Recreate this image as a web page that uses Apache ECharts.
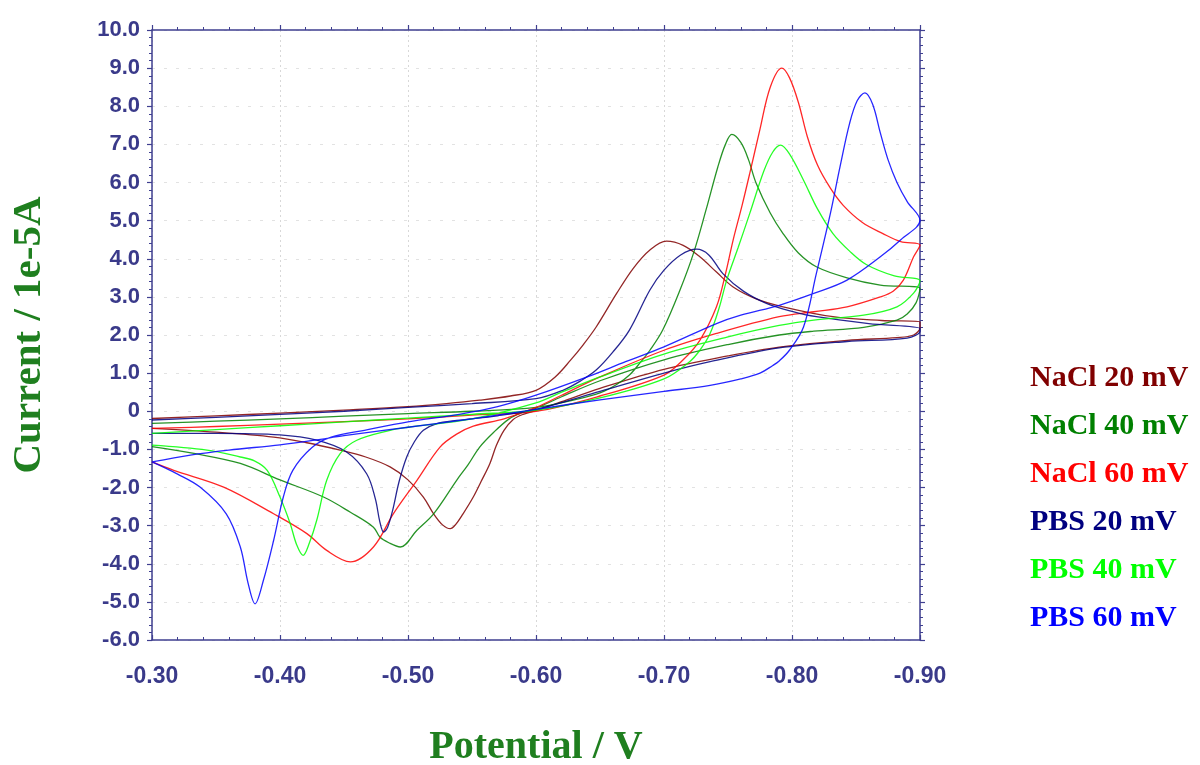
<!DOCTYPE html>
<html>
<head>
<meta charset="utf-8">
<title>Cyclic voltammograms</title>
<script src="https://cdn.jsdelivr.net/npm/echarts@6/dist/echarts.min.js"></script>
<style>
  html, body { margin: 0; padding: 0; background: #ffffff; }
  #chart { width: 1200px; height: 765px; }
</style>
</head>
<body>
<div id="chart"></div>
<script>
// Series names and colours
const seriesNames = ['NaCl 20 mV', 'NaCl 40 mV', 'NaCl 60 mV', 'PBS 20 mV', 'PBS 40 mV', 'PBS 60 mV'];
const seriesColors = ['#800000', '#008000', '#ff0000', '#000080', '#00ff00', '#0000ff'];

// Axis ticks
const potentialTicks = [-0.9, -0.3, 0.1];   // min, max, step (V)
const currentTicks = [-6, 10, 1];           // min, max, step (1e-5 A)

// Each voltammogram: forward scan -0.30 -> -0.90 V, then reverse scan back to -0.30 V
// [potential (V), current (1e-5 A)]
const nacl20 = [
  [-0.30,-0.19],[-0.35,-0.12],[-0.40,-0.05],[-0.45,0.03],[-0.50,0.12],[-0.53,0.20],[-0.556,0.29],[-0.58,0.40],
  [-0.60,0.55],[-0.615,0.90],[-0.627,1.34],[-0.637,1.75],[-0.647,2.21],[-0.663,3.09],[-0.676,3.75],[-0.689,4.23],
  [-0.702,4.46],[-0.715,4.35],[-0.728,4.05],[-0.741,3.65],[-0.754,3.26],[-0.772,2.95],[-0.793,2.74],[-0.832,2.48],
  [-0.87,2.38],[-0.90,2.34],
  [-0.90,2.20],[-0.895,2.00],[-0.882,1.93],[-0.843,1.86],[-0.79,1.68],[-0.75,1.45],[-0.70,1.10],[-0.65,0.60],
  [-0.62,0.25],[-0.60,0.02],[-0.59,-0.08],[-0.582,-0.22],[-0.575,-0.50],[-0.569,-0.90],[-0.564,-1.37],[-0.557,-1.85],
  [-0.551,-2.25],[-0.543,-2.69],[-0.537,-2.98],[-0.533,-3.08],[-0.527,-2.98],[-0.52,-2.69],[-0.512,-2.25],[-0.50,-1.80],
  [-0.486,-1.46],[-0.467,-1.20],[-0.447,-1.02],[-0.42,-0.82],[-0.395,-0.68],[-0.35,-0.55],[-0.30,-0.45]
];
const nacl40 = [
  [-0.30,-0.32],[-0.35,-0.26],[-0.40,-0.20],[-0.45,-0.13],[-0.50,-0.06],[-0.55,0.00],[-0.60,0.10],[-0.63,0.30],
  [-0.65,0.48],[-0.663,0.70],[-0.673,0.95],[-0.682,1.30],[-0.689,1.60],[-0.699,2.13],[-0.7125,3.18],[-0.723,4.14],
  [-0.733,5.30],[-0.742,6.40],[-0.748,7.00],[-0.753,7.26],[-0.76,7.05],[-0.766,6.60],[-0.772,5.98],[-0.783,5.20],
  [-0.793,4.66],[-0.805,4.15],[-0.819,3.79],[-0.843,3.50],[-0.869,3.31],[-0.90,3.22],
  [-0.897,2.85],[-0.89,2.55],[-0.882,2.39],[-0.856,2.20],[-0.817,2.10],[-0.79,2.00],[-0.75,1.75],[-0.70,1.35],
  [-0.65,0.80],[-0.62,0.38],[-0.60,0.08],[-0.588,-0.05],[-0.579,-0.20],[-0.567,-0.55],[-0.556,-0.94],[-0.547,-1.40],
  [-0.538,-1.81],[-0.52,-2.69],[-0.507,-3.12],[-0.494,-3.56],[-0.485,-3.45],[-0.478,-3.30],[-0.473,-3.04],[-0.455,-2.65],
  [-0.434,-2.25],[-0.40,-1.80],[-0.369,-1.37],[-0.335,-1.12],[-0.30,-0.93]
];
const nacl60 = [
  [-0.30,-0.45],[-0.35,-0.40],[-0.40,-0.34],[-0.45,-0.27],[-0.50,-0.20],[-0.55,-0.10],[-0.60,0.00],[-0.65,0.40],
  [-0.70,0.95],[-0.715,1.35],[-0.728,1.86],[-0.741,2.74],[-0.748,3.60],[-0.754,4.49],[-0.761,5.40],[-0.767,6.24],
  [-0.775,7.40],[-0.783,8.50],[-0.792,9.00],[-0.798,8.75],[-0.805,8.10],[-0.812,7.20],[-0.82,6.45],[-0.83,5.85],
  [-0.84,5.40],[-0.855,4.95],[-0.871,4.66],[-0.885,4.45],[-0.90,4.36],
  [-0.895,4.05],[-0.887,3.44],[-0.879,3.15],[-0.869,3.00],[-0.843,2.74],[-0.817,2.61],[-0.79,2.48],[-0.741,2.04],
  [-0.70,1.60],[-0.65,0.90],[-0.62,0.42],[-0.60,0.10],[-0.575,-0.20],[-0.551,-0.39],[-0.538,-0.60],[-0.525,-0.94],
  [-0.507,-1.81],[-0.4885,-2.69],[-0.473,-3.56],[-0.455,-3.95],[-0.4365,-3.65],[-0.421,-3.21],[-0.395,-2.69],
  [-0.356,-1.99],[-0.317,-1.55],[-0.30,-1.33]
];
const pbs20 = [
  [-0.30,-0.23],[-0.35,-0.16],[-0.40,-0.08],[-0.45,0.00],[-0.50,0.10],[-0.55,0.20],[-0.60,0.33],[-0.621,0.55],
  [-0.635,0.80],[-0.647,1.08],[-0.66,1.55],[-0.673,2.13],[-0.689,3.18],[-0.70,3.70],[-0.713,4.10],[-0.7255,4.25],
  [-0.735,4.10],[-0.746,3.61],[-0.762,3.15],[-0.78,2.83],[-0.80,2.62],[-0.819,2.48],[-0.86,2.30],[-0.90,2.17],
  [-0.90,2.10],[-0.89,1.92],[-0.843,1.83],[-0.79,1.66],[-0.736,1.30],[-0.70,1.00],[-0.65,0.52],[-0.60,0.05],
  [-0.57,-0.12],[-0.538,-0.24],[-0.522,-0.33],[-0.512,-0.50],[-0.505,-0.80],[-0.499,-1.20],[-0.493,-1.85],
  [-0.488,-2.60],[-0.484,-3.05],[-0.481,-3.17],[-0.478,-2.90],[-0.4745,-2.30],[-0.4677,-1.64],[-0.452,-1.07],
  [-0.4287,-0.76],[-0.40,-0.62],[-0.35,-0.58],[-0.30,-0.58]
];
const pbs40 = [
  [-0.30,-0.58],[-0.35,-0.48],[-0.40,-0.38],[-0.45,-0.28],[-0.50,-0.18],[-0.55,-0.08],[-0.60,0.03],[-0.65,0.35],
  [-0.70,0.85],[-0.72,1.30],[-0.728,1.60],[-0.736,2.04],[-0.743,2.70],[-0.749,3.44],[-0.758,4.30],[-0.767,5.19],
  [-0.778,6.30],[-0.785,6.80],[-0.791,6.98],[-0.798,6.75],[-0.809,6.06],[-0.82,5.30],[-0.832,4.66],[-0.845,4.20],
  [-0.858,3.85],[-0.88,3.55],[-0.90,3.42],
  [-0.895,3.10],[-0.882,2.74],[-0.856,2.52],[-0.817,2.39],[-0.79,2.25],[-0.75,1.95],[-0.70,1.50],[-0.65,0.90],
  [-0.62,0.50],[-0.60,0.22],[-0.55,-0.20],[-0.50,-0.42],[-0.486,-0.50],[-0.46,-0.76],[-0.447,-1.11],[-0.4365,-1.81],
  [-0.4287,-2.86],[-0.423,-3.45],[-0.418,-3.78],[-0.413,-3.50],[-0.408,-2.95],[-0.40,-2.25],[-0.39,-1.55],
  [-0.38,-1.30],[-0.369,-1.20],[-0.343,-1.02],[-0.30,-0.89]
];
const pbs60 = [
  [-0.30,-1.33],[-0.33,-1.15],[-0.36,-1.02],[-0.40,-0.88],[-0.427,-0.76],[-0.45,-0.64],[-0.50,-0.42],[-0.55,-0.20],
  [-0.60,0.05],[-0.65,0.30],[-0.70,0.52],[-0.736,0.68],[-0.76,0.85],[-0.775,1.00],[-0.785,1.20],[-0.79,1.32],
  [-0.798,1.60],[-0.809,2.21],[-0.819,3.61],[-0.83,5.19],[-0.8375,6.41],[-0.845,7.55],[-0.851,8.15],[-0.857,8.35],
  [-0.863,8.05],[-0.869,7.30],[-0.875,6.60],[-0.882,6.00],[-0.89,5.50],[-0.90,5.01],
  [-0.885,4.50],[-0.869,4.05],[-0.843,3.44],[-0.817,3.09],[-0.79,2.78],[-0.76,2.52],[-0.741,2.30],[-0.70,1.69],
  [-0.67,1.30],[-0.64,0.90],[-0.60,0.42],[-0.57,0.12],[-0.54,-0.08],[-0.50,-0.28],[-0.466,-0.50],[-0.44,-0.68],
  [-0.425,-0.95],[-0.41,-1.55],[-0.4026,-2.25],[-0.395,-3.39],[-0.387,-4.44],[-0.3805,-5.05],[-0.375,-4.50],
  [-0.369,-3.56],[-0.358,-2.69],[-0.3375,-1.99],[-0.32,-1.65],[-0.30,-1.33]
];
const seriesData = [nacl20, nacl40, nacl60, pbs20, pbs40, pbs60];

const axisColor = '#3f3f90';
const labelColor = '#3a3a8a';
const titleColor = '#1f7f1f';
const sansFamily = '"Liberation Sans", Arial, sans-serif';
const xTickFont = { color: labelColor, fontFamily: sansFamily, fontWeight: 'bold', fontSize: 23 };
const yTickFont = { color: labelColor, fontFamily: sansFamily, fontWeight: 'bold', fontSize: 22 };
const titleFamily = '"Liberation Serif", "Times New Roman", serif';

const chart = echarts.init(document.getElementById('chart'), null, { renderer: 'canvas' });

function xAxisDef(pos, main) {
  return {
    type: 'value', position: pos, inverse: true,
    min: potentialTicks[0], max: potentialTicks[1], interval: potentialTicks[2],
    axisLine: { show: true, onZero: false, lineStyle: { color: axisColor, width: 1.5 } },
    axisTick: { show: true, inside: main, length: 5, lineStyle: { color: axisColor, width: 1.2 } },
    minorTick: { show: true, splitNumber: 5, length: 3, lineStyle: { color: axisColor, width: 1 } },
    axisLabel: main ? Object.assign({ show: true, margin: 25, formatter: v => v.toFixed(2) }, xTickFont) : { show: false },
    splitLine: { show: main, lineStyle: { color: '#d8d8d8', type: [2, 3], width: 1 } },
    minorSplitLine: { show: false },
    name: main ? 'Potential / V' : '',
    nameLocation: 'middle', nameGap: 88,
    nameTextStyle: { color: titleColor, fontFamily: titleFamily, fontWeight: 'bold', fontSize: 40 }
  };
}
function yAxisDef(pos, main) {
  return {
    type: 'value', position: pos,
    min: currentTicks[0], max: currentTicks[1], interval: currentTicks[2],
    axisLine: { show: true, onZero: false, lineStyle: { color: axisColor, width: 1.5 } },
    axisTick: { show: true, inside: false, length: 5, lineStyle: { color: axisColor, width: 1.2 } },
    minorTick: { show: true, splitNumber: 5, length: 3, lineStyle: { color: axisColor, width: 1 } },
    axisLabel: main ? Object.assign({ show: true, margin: 12, formatter: v => (v === 0 ? '0' : v.toFixed(1)) }, yTickFont) : { show: false },
    splitLine: { show: main, lineStyle: { color: '#e2e2e2', type: [3, 9], width: 1 } },
    name: main ? 'Current / 1e-5A' : '',
    nameLocation: 'middle', nameGap: 102,
    nameTextStyle: { color: titleColor, fontFamily: titleFamily, fontWeight: 'bold', fontSize: 41 }
  };
}

chart.setOption({
  animation: false,
  backgroundColor: '#ffffff',
  grid: { left: 152, right: 280, top: 30, bottom: 125, containLabel: false, outerBoundsMode: 'none' },
  xAxis: [xAxisDef('bottom', true), xAxisDef('top', false)],
  yAxis: [yAxisDef('left', true), yAxisDef('right', false)],
  legend: {
    orient: 'vertical', left: 1020, top: 358,
    icon: 'none', itemWidth: 0, itemHeight: 30, itemGap: 18,
    selectedMode: false,
    textStyle: { fontFamily: titleFamily, fontWeight: 'bold', fontSize: 30 },
    data: seriesNames.map((n, i) => ({ name: n, textStyle: { color: seriesColors[i] } }))
  },
  series: seriesData.map((d, i) => ({
    name: seriesNames[i], type: 'line', data: d,
    xAxisIndex: 0, yAxisIndex: 0,
    showSymbol: false, symbol: 'none', smooth: 0.35,
    lineStyle: { color: seriesColors[i], width: 1.3, opacity: 0.85 },
    itemStyle: { color: seriesColors[i] }
  }))
});
</script>
</body>
</html>
